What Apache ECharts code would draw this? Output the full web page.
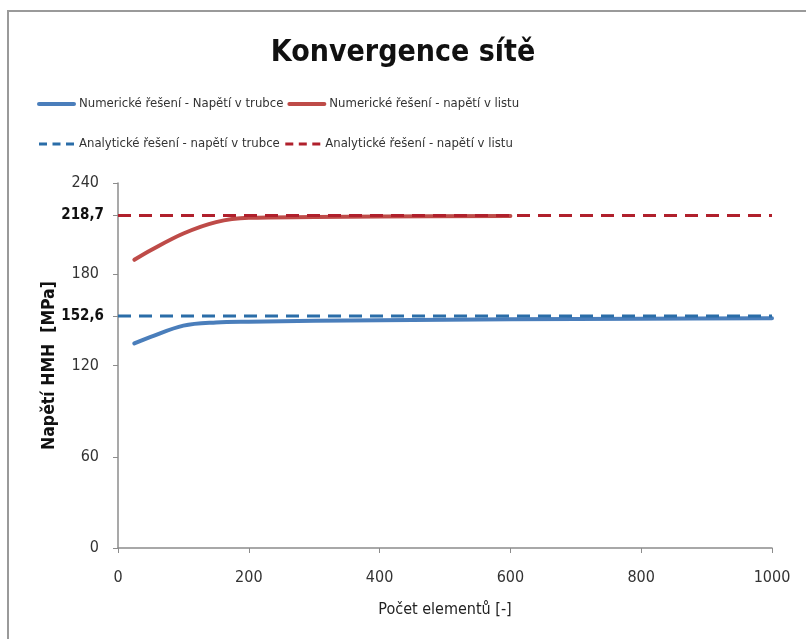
<!DOCTYPE html>
<html>
<head>
<meta charset="utf-8">
<script src="https://cdn.jsdelivr.net/npm/echarts@6/dist/echarts.min.js"></script>
<style>
  html, body { margin: 0; padding: 0; background: #fff; }
  #chart { width: 806px; height: 639px; }
</style>
</head>
<body>
<div id="chart"></div>
<script>
// Mesh convergence: number of elements vs. von Mises (HMH) stress
const elementsTube = [25, 50, 100, 150, 200, 400, 600, 800, 1000];
const stressTube   = [134.5, 138.8, 146.2, 148.3, 148.8, 149.8, 150.4, 150.8, 151.0];

const elementsLeaf = [25, 50, 100, 150, 200, 300, 400, 600];
const stressLeaf   = [189.5, 195.8, 206.8, 214.3, 217.1, 217.6, 217.9, 218.3];

const analyticTube = 152.6;
const analyticLeaf = 218.7;
const analyticRange = [0, 1000];

const yTicks = [0, 60, 120, 152.6, 180, 218.7, 240];
const xTicks = [0, 200, 400, 600, 800, 1000];

const seriesNames = [
  'Numerické řešení - Napětí v trubce',
  'Numerické řešení - napětí v listu',
  'Analytické řešení - napětí v trubce',
  'Analytické řešení - napětí v listu'
];

const FONT = '"Liberation Sans Narrow", "DejaVu Sans Condensed", "Open Sans", sans-serif';

const COLORS = {
  tube: '#4A7EBB',
  leaf: '#BE4B48',
  tubeRef: '#2A6DA8',
  leafRef: '#B0202C'
};

const pairs = (xs, ys) => xs.map((x, i) => [x, ys[i]]);
const flat = (v) => analyticRange.map(x => [x, v]);

const chart = echarts.init(document.getElementById('chart'), null, { renderer: 'canvas' });

const hiddenSymbol = { opacity: 0 };

chart.setOption({
  animation: false,
  backgroundColor: '#fff',
  textStyle: { fontFamily: FONT },
  graphic: [{
    type: 'rect',
    shape: { x: 8, y: 11, width: 820, height: 660 },
    style: { fill: 'none', stroke: '#9a9a9a', lineWidth: 2 },
    silent: true
  }],
  title: {
    text: 'Konvergence sítě',
    left: 'center',
    top: 38,
    padding: 0,
    textStyle: { fontFamily: FONT, fontSize: 30, fontWeight: 'bold', color: '#111' }
  },
  legend: {
    left: 37, top: 86, width: 520,
    padding: 0,
    orient: 'horizontal',
    itemWidth: 35, itemHeight: 14, itemGap: 4,
    textStyle: { fontFamily: FONT, fontSize: 13, color: '#333', lineHeight: 36 },
    data: [
      { name: seriesNames[0], itemStyle: hiddenSymbol, lineStyle: { width: 4, color: COLORS.tube, type: 'solid' } },
      { name: seriesNames[1], itemStyle: hiddenSymbol, lineStyle: { width: 4, color: COLORS.leaf, type: 'solid' } },
      { name: seriesNames[2], itemStyle: hiddenSymbol, lineStyle: { width: 3, color: COLORS.tubeRef, type: [8, 5.5] } },
      { name: seriesNames[3], itemStyle: hiddenSymbol, lineStyle: { width: 3, color: COLORS.leafRef, type: [8, 5.5] } }
    ]
  },
  grid: { left: 118, right: 34, top: 183, bottom: 91, containLabel: false },
  xAxis: {
    type: 'value',
    min: 0, max: 1000, interval: 200,
    name: 'Počet elementů [-]',
    nameLocation: 'middle',
    nameGap: 54,
    nameMoveOverlap: false,
    nameTextStyle: { fontFamily: FONT, fontSize: 16, color: '#222' },
    axisLine: { lineStyle: { color: '#8c8c8c', width: 1.5 } },
    axisTick: { show: true, length: 5, lineStyle: { color: '#8c8c8c' }, customValues: xTicks },
    axisLabel: {
      fontFamily: FONT, fontSize: 16, color: '#333', margin: 22,
      customValues: xTicks,
      formatter: (v) => String(v)
    },
    splitLine: { show: false }
  },
  yAxis: {
    type: 'value',
    min: 0, max: 240,
    name: 'Napětí HMH  [MPa]',
    nameLocation: 'middle',
    nameGap: 60,
    nameMoveOverlap: false,
    nameTextStyle: { fontFamily: FONT, fontSize: 17.5, fontWeight: 'bold', color: '#111' },
    axisLine: { show: true, lineStyle: { color: '#8c8c8c', width: 1.5 } },
    axisTick: { show: true, length: 5, lineStyle: { color: '#8c8c8c' }, customValues: yTicks },
    axisLabel: {
      customValues: yTicks,
      fontFamily: FONT, fontSize: 16, color: '#333', margin: 14,
      formatter: function (v) {
        const s = String(v).replace('.', ',');
        return (v === analyticTube || v === analyticLeaf) ? '{b|' + s + '}' : '{n|' + s + '}';
      },
      rich: {
        n: { fontFamily: FONT, fontSize: 16, color: '#333', padding: [0, 5, 0, 0] },
        b: { fontFamily: FONT, fontSize: 15, color: '#111', fontWeight: 'bold' }
      }
    },
    splitLine: { show: false }
  },
  series: [{
    name: seriesNames[0],
    type: 'line',
    data: pairs(elementsTube, stressTube),
    smooth: 0.35,
    symbol: 'none',
    color: COLORS.tube,
    lineStyle: { width: 4, color: COLORS.tube, cap: 'round' },
    z: 3
  }, {
    name: seriesNames[1],
    type: 'line',
    data: pairs(elementsLeaf, stressLeaf),
    smooth: 0.35,
    symbol: 'none',
    color: COLORS.leaf,
    lineStyle: { width: 4, color: COLORS.leaf, cap: 'round' },
    z: 3
  }, {
    name: seriesNames[2],
    type: 'line',
    data: flat(analyticTube),
    symbol: 'none',
    color: COLORS.tubeRef,
    lineStyle: { width: 3, color: COLORS.tubeRef, type: [13, 8] },
    z: 4
  }, {
    name: seriesNames[3],
    type: 'line',
    data: flat(analyticLeaf),
    symbol: 'none',
    color: COLORS.leafRef,
    lineStyle: { width: 3, color: COLORS.leafRef, type: [13, 8] },
    z: 4
  }]
});
</script>
</body>
</html>
